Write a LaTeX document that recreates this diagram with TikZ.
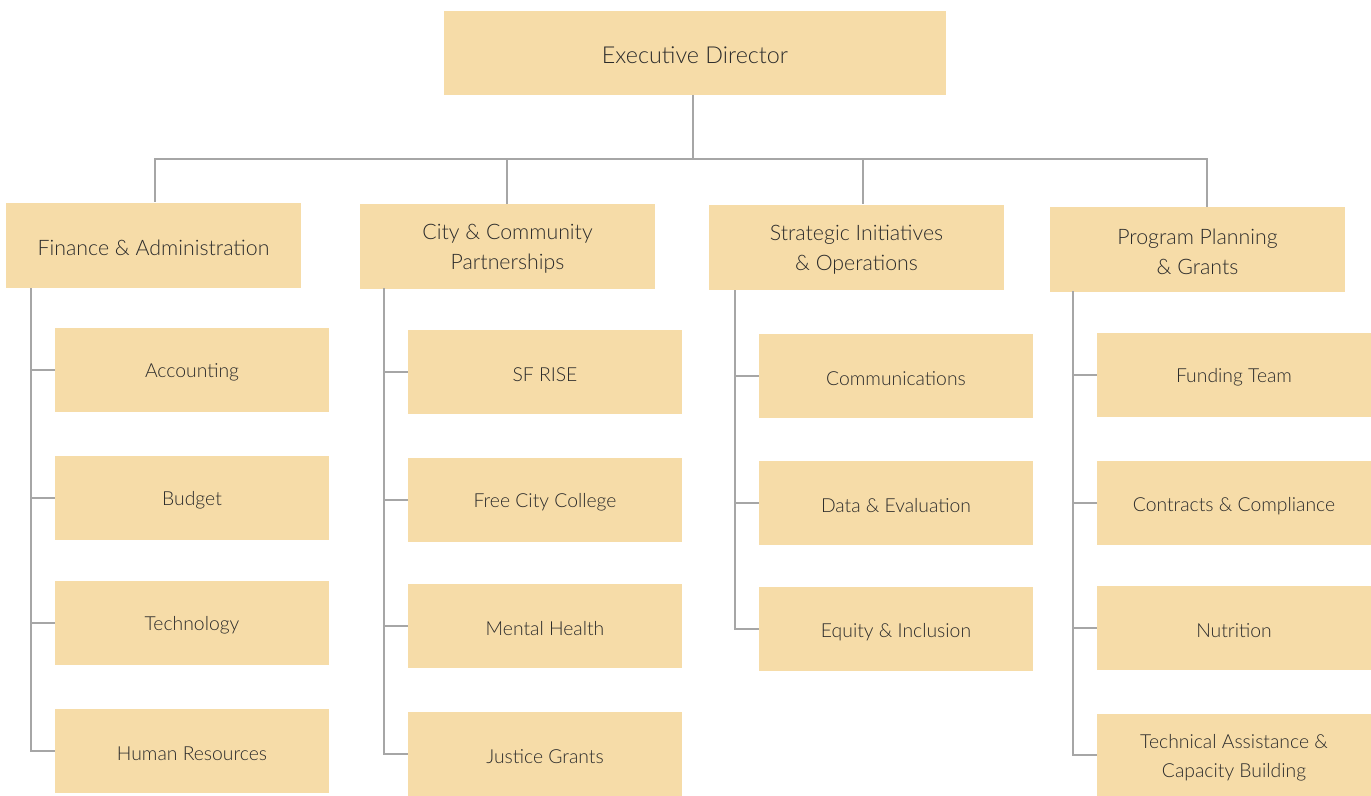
\documentclass[tikz,border=0pt]{standalone}
\usepackage{fontspec}
\setmainfont{Lato}[UprightFont=* Light]
\usetikzlibrary{calc}
\definecolor{boxfill}{HTML}{F6DCA8}
\definecolor{linegray}{HTML}{A6A6A6}
\definecolor{txt}{HTML}{2B2B2B}
\begin{document}
\begin{tikzpicture}[x=0.75pt,y=-0.75pt,
  orgbox/.style={fill=boxfill,draw=none,inner sep=0pt},
  lbl/.style={text=txt,align=center,inner sep=0pt,yshift=-2pt},
  conn/.style={draw=linegray,line width=1.1pt}]
\useasboundingbox (0,0) rectangle (1371,796);
\fill[white] (0,0) rectangle (1371,796);
\tikzset{top/.style={orgbox,minimum width=502*0.75pt,minimum height=84*0.75pt},
  head/.style={orgbox,minimum width=295*0.75pt,minimum height=85*0.75pt},
  sub/.style={orgbox,minimum width=274*0.75pt,minimum height=84*0.75pt},
  toptext/.style={lbl,font=\fontsize{17.5}{20}\selectfont},
  headtext/.style={lbl,font=\fontsize{16}{22}\selectfont},
  subtext/.style={lbl,font=\fontsize{14.5}{22}\selectfont}}
% top
\node[top,label={[toptext]center:Executive Director}] (exec) at (695,53) {};
% heads
\node[head,label={[headtext]center:Finance \& Administration}] (fin) at (153.5,245) {};
\node[head,label={[headtext]center:City \& Community\\Partnerships}] (city) at (507.5,246) {};
\node[head,label={[headtext]center:Strategic Initiatives\\\& Operations}] (strat) at (856.5,247) {};
\node[head,label={[headtext]center:Program Planning\\\& Grants}] (prog) at (1197.5,249) {};
% bus
\coordinate (bus) at (693,159);
\draw[conn] (exec.south -| bus) -- (bus);
\draw[conn] (bus) -| (155,202);
\draw[conn] (bus) -| (1207,207);
\draw[conn] (507,159) -- (507,204);
\draw[conn] (863,159) -- (863,204);
% finance children
\node[sub,label={[subtext]center:Accounting}] (acc) at (192,370) {};
\node[sub,label={[subtext]center:Budget}] (bud) at (192,498) {};
\node[sub,label={[subtext]center:Technology}] (tech) at (192,623) {};
\node[sub,label={[subtext]center:Human Resources}] (hr) at (192,751) {};
\coordinate (finsp) at (31,288);
\foreach \c in {acc,bud,tech,hr} \draw[conn] (\c.west) -| (finsp);
% city children
\node[sub,label={[subtext]center:SF RISE}] (sfr) at (545,372) {};
\node[sub,label={[subtext]center:Free City College}] (fcc) at (545,500) {};
\node[sub,label={[subtext]center:Mental Health}] (mh) at (545,626) {};
\node[sub,label={[subtext]center:Justice Grants}] (jg) at (545,754) {};
\coordinate (citysp) at (384,288);
\foreach \c in {sfr,fcc,mh,jg} \draw[conn] (\c.west) -| (citysp);
% strategic children
\node[sub,label={[subtext]center:Communications}] (com) at (896,376) {};
\node[sub,label={[subtext]center:Data \& Evaluation}] (de) at (896,503) {};
\node[sub,label={[subtext]center:Equity \& Inclusion}] (ei) at (896,629) {};
\coordinate (stratsp) at (735,290);
\foreach \c in {com,de,ei} \draw[conn] (\c.west) -| (stratsp);
% program children
\node[sub,label={[subtext]center:Funding Team}] (ft) at (1234,375) {};
\node[sub,label={[subtext]center:Contracts \& Compliance}] (cc) at (1234,503) {};
\node[sub,label={[subtext]center:Nutrition}] (nut) at (1234,628) {};
\node[sub,minimum height=82*0.75pt,label={[subtext]center:Technical Assistance \&\\Capacity Building}] (ta) at (1234,755) {};
\coordinate (progsp) at (1073,291);
\foreach \c in {ft,cc,nut,ta} \draw[conn] (\c.west) -| (progsp);
\end{tikzpicture}
\end{document}
